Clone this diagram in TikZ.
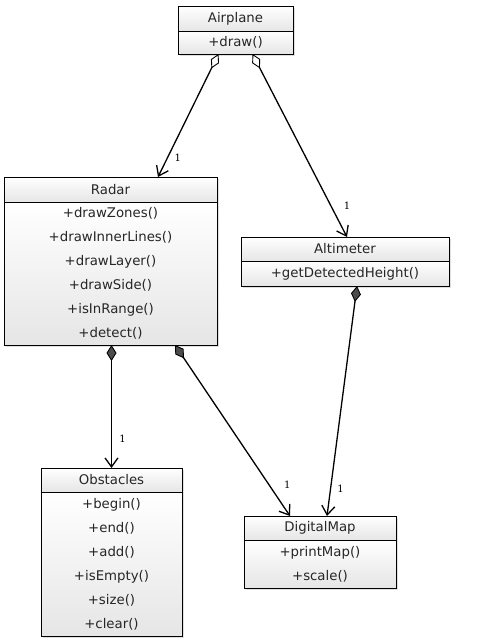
\documentclass[tikz,border=0pt]{standalone}
\usepackage{fontspec}
\setmainfont{DejaVu Sans}
\newfontfamily\multfont{DejaVu Serif}
\usetikzlibrary{arrows.meta, positioning, shadows}

\begin{document}
\begin{tikzpicture}[x=1pt, y=-1pt,
        cls/.style={draw, line width=0.8pt, top color=white, bottom color=gray!20, align=center, inner sep=0pt, outer sep=0pt,
            text=black!85, font=\fontsize{13.3}{24}\selectfont,
            drop shadow={shadow xshift=2pt, shadow yshift=-2pt, opacity=0.25}},
        head/.style={cls, minimum height=24pt, anchor=north},
        body/.style={cls},
        mult/.style={font=\multfont\fontsize{10}{10}\selectfont, inner sep=0pt},
        aggr/.style={line width=1.3pt, {Diamond[open, fill=white, length=16pt, width=9pt, line width=0.9pt]}-{Straight Barb[length=9pt, width=13pt]}},
        comp/.style={line width=1.3pt, {Diamond[fill=black!70, length=16pt, width=10pt, line width=0.9pt]}-{Straight Barb[length=9pt, width=13pt]}}]
    \useasboundingbox (0, 0) rectangle (488, 643);

    \node[head, minimum width=115pt, minimum height=25pt] (airplane) at (235.5, 6) {Airplane};
    \node[body, minimum width=115pt, minimum height=23pt, below=0pt of airplane] (airplaneops) {+draw()};

    \node[head, minimum width=213pt, minimum height=25pt] (radar) at (110.5, 177) {Radar};
    \node[body, minimum width=213pt, minimum height=143pt, below=0pt of radar] (radarops)
        {+drawZones()\\+drawInnerLines()\\+drawLayer()\\+drawSide()\\+isInRange()\\+detect()};

    \node[head, minimum width=208pt] (altimeter) at (345, 237) {Altimeter};
    \node[body, minimum width=208pt, minimum height=25pt, below=0pt of altimeter] (altimeterops) {+getDetectedHeight()};

    \node[head, minimum width=141pt] (obstacles) at (111.5, 468) {Obstacles};
    \node[body, minimum width=141pt, minimum height=144pt, below=0pt of obstacles] (obstaclesops)
        {+begin()\\+end()\\+add()\\+isEmpty()\\+size()\\+clear()};

    \node[head, minimum width=152pt] (digitalmap) at (320, 516) {DigitalMap};
    \node[body, minimum width=152pt, minimum height=48pt, below=0pt of digitalmap] (digitalmapops) {+printMap()\\+scale()};

    \draw[aggr] ([xshift=-17pt]airplaneops.south) -- node[mult, pos=0.84, xshift=10pt] {1} ([xshift=47.5pt]radar.north);
    \draw[aggr] ([xshift=17pt]airplaneops.south) -- node[mult, pos=0.83, xshift=16pt] {1} ([xshift=2pt]altimeter.north);
    \draw[comp] (radarops.south -| obstacles.north) -- node[mult, pos=0.76, xshift=11pt] {1} (obstacles.north);
    \draw[comp] ([xshift=64.5pt]radarops.south) -- node[mult, pos=0.82, xshift=18pt] {1} ([xshift=-30pt]digitalmap.north);
    \draw[comp] ([xshift=12pt]altimeterops.south) -- node[mult, pos=0.88, xshift=10pt] {1} ([xshift=7pt]digitalmap.north);
\end{tikzpicture}
\end{document}
